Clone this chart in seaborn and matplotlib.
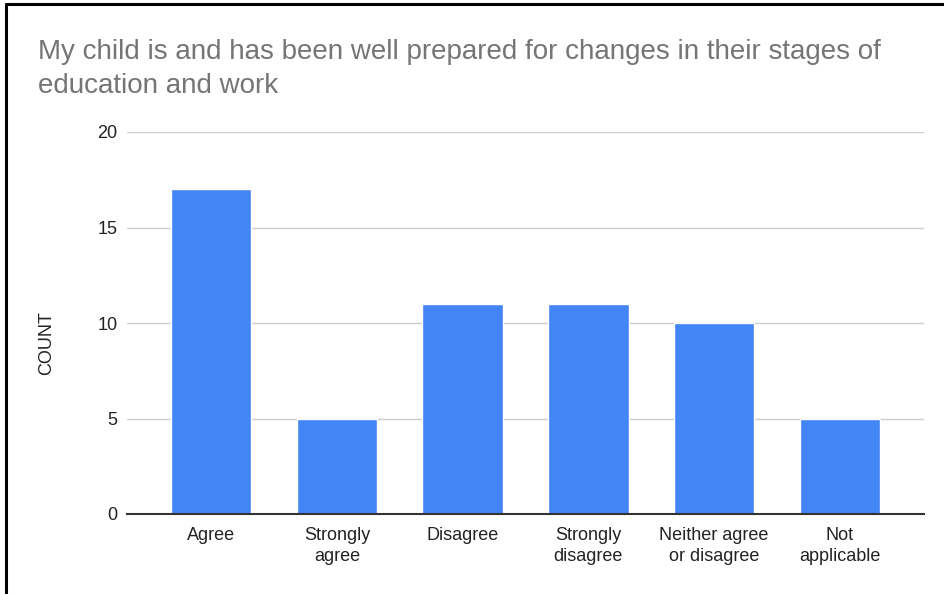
import matplotlib
matplotlib.use("Agg")
import matplotlib.pyplot as plt
import seaborn as sns
import pandas as pd
from matplotlib.lines import Line2D

categories = ["Agree", "Strongly\nagree", "Disagree", "Strongly\ndisagree",
              "Neither agree\nor disagree", "Not\napplicable"]
counts = [17, 5, 11, 11, 10, 5]
y_ticks = [0, 5, 10, 15, 20]
title_lines = ["My child is and has been well prepared for changes in their stages of",
               "education and work"]

sns.set_theme(style="white")
plt.rcParams["font.family"] = ["Liberation Sans", "DejaVu Sans"]

df = pd.DataFrame({"category": categories, "count": counts})

W, H = 945, 594
fig = plt.figure(figsize=(W / 100, H / 100), dpi=100)
ax = fig.add_axes([127 / W, 1 - 514 / H, (924 - 127) / W, (514 - 132) / H])

sns.barplot(data=df, x="category", y="count", color="#4285F4", width=0.64,
            saturation=1, ax=ax, zorder=3)

ax.set_ylim(0, 20)
ax.set_xlim(-0.67, 5.67)
ax.set_yticks(y_ticks)
ax.set_yticklabels([str(v) for v in y_ticks], fontsize=13, color="#222222")
for lbl in ax.get_xticklabels():
    lbl.set_linespacing(1.35)
ax.tick_params(axis="x", labelsize=13, labelcolor="#222222", length=0, pad=9)
ax.tick_params(axis="y", length=0, pad=7)
ax.grid(axis="y", color="#cccccc", linewidth=1, zorder=0)
for s in ["top", "right", "left"]:
    ax.spines[s].set_visible(False)
ax.spines["bottom"].set_color("#333333")
ax.spines["bottom"].set_linewidth(1.5)
ax.spines["bottom"].set_zorder(4)
ax.set_xlabel("")
ax.set_ylabel("")

fig.text(47 / W, 1 - 343 / H, "COUNT", fontsize=13, color="#222222",
         rotation=90, ha="center", va="center")

for i, line in enumerate(title_lines):
    fig.text(38 / W, 1 - (59 + 34 * i) / H, line, fontsize=20, color="#757575",
             ha="left", va="baseline")

# frame edges on the left and top
fig.add_artist(Line2D([6 / W, 6 / W], [0, 1 - 4 / H], color="black", linewidth=2.2))
fig.add_artist(Line2D([6 / W, 1], [1 - 4 / H, 1 - 4 / H], color="black", linewidth=2.2))

fig.savefig("out.png", dpi=100)
